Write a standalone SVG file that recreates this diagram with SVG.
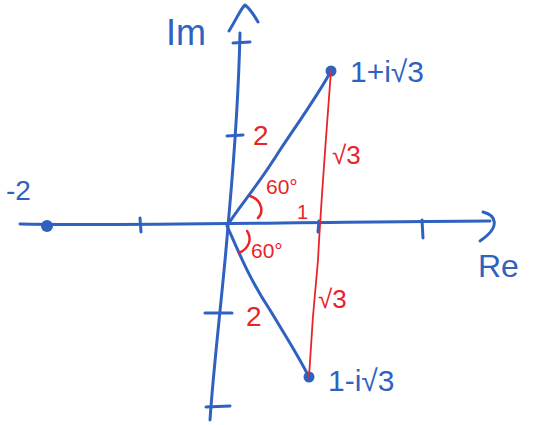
<svg xmlns="http://www.w3.org/2000/svg" width="534" height="425" viewBox="0 0 534 425">
<style>
.ax{fill:none;stroke:#2F62C0;stroke-width:3;stroke-linecap:round;stroke-linejoin:round}
.bl{fill:none;stroke:#2F62C0;stroke-width:3;stroke-linecap:round;stroke-linejoin:round}
.rd{fill:none;stroke:#E8242A;stroke-width:1.8;stroke-linecap:round}
.arc{fill:none;stroke:#E8242A;stroke-width:2.5;stroke-linecap:round}
.bt{font-family:"Liberation Sans",Arial,sans-serif;fill:#2F62C0}
.rt{font-family:"Liberation Sans",Arial,sans-serif;fill:#E8242A}
.dot{fill:#2F62C0}
</style>
<rect width="534" height="425" fill="#fff"/>
<g id="axes">
<path class="ax" d="M20 224 C120 226 300 222 490 221"/>
<path class="ax" d="M483 212 C495 215 502 226 480 241"/>
<path class="ax" d="M240 33 C238 120 232 180 228 226 C224 280 214 360 210 420"/>
<path class="ax" d="M229 31 C236 20 241 8 245 5 C249 8 254 15 258 22"/>
<path class="ax" d="M233 43 L250 42 M227 136 L243 135 M205 313 L232 313 M206 407 L230 406 M140 218 L141 232 M319 221 L318 232 M422 220 L423 238"/>
</g>
<g id="label-im"><text class="bt" x="166" y="45" font-size="36">Im</text></g>
<g id="label-re"><text class="bt" x="478" y="277" font-size="32">Re</text></g>
<g id="point-neg2">
<circle class="dot" cx="47" cy="226" r="6"/>
<text class="bt" x="6" y="200" font-size="28">-2</text>
</g>
<g id="point-top">
<circle class="dot" cx="331" cy="71" r="5.5"/>
<text class="bt" x="350" y="82" font-size="30">1+i√3</text>
</g>
<g id="point-bottom">
<circle class="dot" cx="309" cy="377" r="5.5"/>
<text class="bt" x="328" y="391" font-size="30">1-i√3</text>
</g>
<g id="connectors">
<path class="bl" d="M227 226 C240 205 255 190 280 150 C300 120 318 95 331 71"/>
<path class="bl" d="M228 228 C240 255 250 280 270 310 C285 335 298 355 309 377"/>
<path class="rd" d="M331 71 C325 150 320 220 318 260 C314 300 311 340 309 377"/>
<path class="arc" d="M250 196 C262 200 264 212 258 218"/>
<path class="arc" d="M247 231 C252 238 250 248 239 253"/>
</g>
<g id="labels-red">
<text class="rt" x="253" y="145" font-size="28">2</text>
<text class="rt" x="332" y="164" font-size="26">√3</text>
<text class="rt" x="266" y="194" font-size="21">60°</text>
<text class="rt" x="297" y="219" font-size="20">1</text>
<text class="rt" x="251" y="258" font-size="21">60°</text>
<text class="rt" x="318" y="308" font-size="26">√3</text>
<text class="rt" x="246" y="326" font-size="28">2</text>
</g>
</svg>
